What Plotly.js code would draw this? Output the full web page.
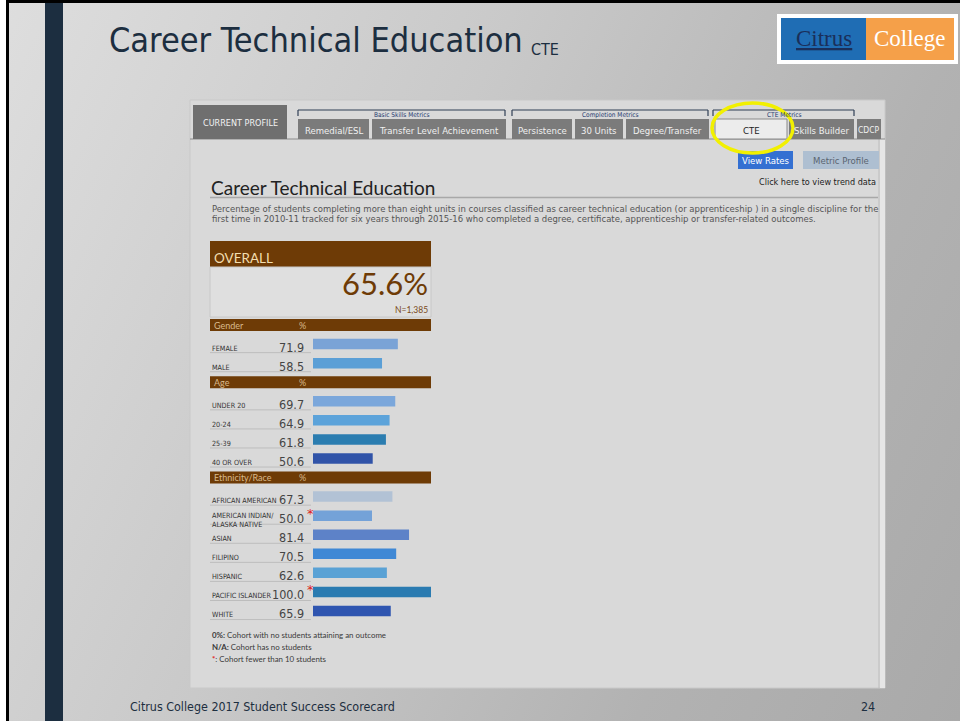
<!DOCTYPE html>
<html>
<head>
<meta charset="utf-8">
<script src="https://cdn.plot.ly/plotly-3.0.1.min.js"></script>
<style>
html,body{margin:0;padding:0;}
#wrap{width:960px;height:721px;background:linear-gradient(115deg,#dedede 0%,#c9c9c9 40%,#b2b2b2 75%,#a9a9a9 100%);}
</style>
</head>
<body>
<div id="wrap"><div id="chart" style="width:960px;height:721px;"></div></div>
<script>
// ---------------- data ----------------
var slideTitle = 'Career Technical Education';
var slideSub = 'CTE';
var footerText = 'Citrus College 2017 Student Success Scorecard';
var pageNumber = '24';
var groups = ['Gender', 'Age', 'Ethnicity/Race'];
var categories = ['FEMALE', 'MALE', 'UNDER 20', '20-24', '25-39', '40 OR OVER',
  'AFRICAN AMERICAN', 'AMERICAN INDIAN/ ALASKA NATIVE', 'ASIAN', 'FILIPINO',
  'HISPANIC', 'PACIFIC ISLANDER', 'WHITE'];
var categoryGroup = ['Gender', 'Gender', 'Age', 'Age', 'Age', 'Age',
  'Ethnicity/Race', 'Ethnicity/Race', 'Ethnicity/Race', 'Ethnicity/Race',
  'Ethnicity/Race', 'Ethnicity/Race', 'Ethnicity/Race'];
var rates = [71.9, 58.5, 69.7, 64.9, 61.8, 50.6, 67.3, 50.0, 81.4, 70.5, 62.6, 100.0, 65.9];
var smallCohort = [false, false, false, false, false, false, false, true, false, false, false, true, false];
var barColors = ['#7aa3d6', '#5b9fd6', '#7ba7db', '#5ca3da', '#2b7db0', '#3053a8',
  '#b2c2d5', '#74a2d8', '#5d82c8', '#3f88d5', '#5aa2d5', '#2a7bb1', '#2f55b0'];
var overallRate = 65.6;
var overallN = 1385;
var tabGroups = ['Basic Skills Metrics', 'Completion Metrics', 'CTE Metrics'];
var tabs = ['Remedial/ESL', 'Transfer Level Achievement', 'Persistence', '30 Units', 'Degree/Transfer', 'CTE', 'Skills Builder', 'CDCP'];
var description = ['Percentage of students completing more than eight units in courses classified as career technical education (or apprenticeship ) in a single discipline for the',
  'first time in 2010-11 tracked for six years through 2015-16 who completed a degree, certificate, apprenticeship or transfer-related outcomes.'];
var notes = [['0%:', ' Cohort with no students attaining an outcome'], ['N/A:', ' Cohort has no students'], ['*', ': Cohort fewer than 10 students']];

// ---------------- helpers (layout decoration in pixel space) ----------------
var W = 960, H = 721;
function px(x) { return x / W; }
function py(y) { return 1 - y / H; }
var shapes = [], ann = [];
function rect(x0, y0, x1, y1, fill, line, lw) {
  shapes.push({type: 'rect', xref: 'paper', yref: 'paper', x0: px(x0), x1: px(x1), y0: py(y1), y1: py(y0),
    fillcolor: fill, line: {color: line || fill, width: lw === undefined ? (line ? 1 : 0) : lw}, layer: 'below'});
}
function hline(x0, x1, y, color, w) {
  shapes.push({type: 'line', xref: 'paper', yref: 'paper', x0: px(x0), x1: px(x1), y0: py(y), y1: py(y),
    line: {color: color, width: w || 1}, layer: 'below'});
}
function vline(x, y0, y1, color, w) {
  shapes.push({type: 'line', xref: 'paper', yref: 'paper', x0: px(x), x1: px(x), y0: py(y0), y1: py(y1),
    line: {color: color, width: w || 1}, layer: 'below'});
}
var COND = 'DejaVu Sans Condensed, Liberation Sans, sans-serif';
function text(x, y, t, size, color, anchor, family, extra) {
  var a = {xref: 'paper', yref: 'paper', x: px(x), y: py(y), text: t, showarrow: false,
    xanchor: anchor || 'left', yanchor: 'middle', font: {size: size, color: color, family: family || COND}};
  if (extra) for (var k in extra) a[k] = extra[k];
  ann.push(a);
}

// ---------------- slide frame ----------------
hline(6, 960, 1.5, '#000000', 3);
vline(7.5, 0, 721, '#000000', 3);
rect(0, 0, 6, 721, '#ffffff');
rect(45, 3, 63, 721, '#1c2e40');

// title
text(107, 40, slideTitle, 34, '#1c2e40', 'left', COND);
text(529, 50, slideSub, 16, '#1c2e40', 'left', COND);
// logo
rect(777, 14, 958, 64, '#ffffff');
rect(781, 18, 866, 60, '#1f6db4');
rect(866, 18, 954, 60, '#f5a049');
text(824, 39, '<u>Citrus</u>', 23, '#1a2f5a', 'center', 'Liberation Serif, serif');
text(910, 39, 'College', 23, '#ffffff', 'center', 'Liberation Serif, serif');

// footer
text(128, 706, footerText, 12.4, '#1c2e40', 'left', COND);
text(877, 706, pageNumber, 12.4, '#1c2e40', 'right', COND);

// ---------------- screenshot panel ----------------
rect(190, 100, 885, 688, '#d9d9d9', '#c9c9c9', 1);
vline(879, 139, 688, '#bdbdbd', 1);
rect(880, 139, 885, 688, '#e6e6e6');
hline(190, 885, 139, '#8a8a8a', 1);
// current profile
rect(193, 105, 287, 139, '#6f6f6f');
text(240, 123, 'CURRENT PROFILE', 9, '#f2f2f2', 'center', COND);
// tab groups brackets
var gspan = [[298, 505], [512, 708], [713, 854]];
for (var g = 0; g < gspan.length; g++) {
  hline(gspan[g][0], gspan[g][1], 110, '#2f3f55', 1.2);
  vline(gspan[g][0], 110, 116, '#2f3f55', 1.2);
  vline(gspan[g][1], 110, 116, '#2f3f55', 1.2);
  text((gspan[g][0] + gspan[g][1]) / 2, 114.5, tabGroups[g], 6.5, '#1f3a70', 'center', COND);
}
var tabX = [[298, 369], [372, 506], [512, 572], [575, 623], [626, 709], [715, 787], [789, 854], [857, 881]];
for (var t = 0; t < tabs.length; t++) {
  var active = tabs[t] === 'CTE';
  rect(tabX[t][0], 119, tabX[t][1], 139, active ? '#ececec' : '#7b7b7b', active ? '#8a8a8a' : null, active ? 1 : 0);
  text((tabX[t][0] + tabX[t][1]) / 2, 130, tabs[t], tabs[t] === 'CDCP' ? 8.5 : 9.5, active ? '#222222' : '#f0f0f0', 'center', COND);
}
// highlight ellipse
shapes.push({type: 'circle', xref: 'paper', yref: 'paper', x0: px(712), x1: px(793), y0: py(153), y1: py(103),
  line: {color: '#f2f000', width: 3.5}, fillcolor: 'rgba(0,0,0,0)', layer: 'above'});

// buttons
rect(738, 151, 793, 169, '#3470d2');
text(765.5, 160, 'View Rates', 9.5, '#ffffff', 'center', COND);
rect(803, 151, 879, 169, '#aebfd1');
text(841, 160, 'Metric Profile', 9.5, '#5a6470', 'center', COND);

// heading
text(209, 187, 'Career Technical Education', 19, '#222222', 'left', 'Lato, Open Sans, sans-serif');
text(878, 182, 'Click here to view trend data', 9, '#222222', 'right', COND);
hline(210, 878, 197.5, '#a8a8a8', 1.5);
text(210, 209, description[0], 8.5, '#555555', 'left', 'DejaVu Sans, sans-serif');
text(210, 219, description[1], 8.5, '#555555', 'left', 'DejaVu Sans, sans-serif');

// overall box
rect(210, 241, 431, 267, '#6e3b06');
text(212, 258, 'OVERALL', 13.5, '#f3deb0', 'left', 'Lato, sans-serif');
rect(210, 267, 431, 317, '#dfdfdf', '#c8c8c8', 1);
text(430, 283, overallRate.toFixed(1) + '%', 31, '#6e3b06', 'right', 'Lato, sans-serif');
text(430, 310, 'N=' + overallN.toLocaleString('en-US'), 8.5, '#7a4a1a', 'right', 'Lato, sans-serif');

// notes
for (var n = 0; n < notes.length; n++) {
  var pre = n === 2 ? '<span style="color:#e02020"><b>*</b></span>' : '<b>' + notes[n][0] + '</b>';
  text(210, 635 + n * 12, pre + notes[n][1], 7.9, '#3a3a3a', 'left', 'Lato, sans-serif');
}

// ---------------- bar chart (data) ----------------
var rows = [];
for (var gi = 0; gi < groups.length; gi++) {
  rows.push(groups[gi]);
  for (var c = 0; c < categories.length; c++) if (categoryGroup[c] === groups[gi]) rows.push(categories[c]);
}
var nRows = rows.length;

// group header bands
for (var gi2 = 0; gi2 < groups.length; gi2++) {
  var idx = rows.indexOf(groups[gi2]);
  shapes.push({type: 'rect', xref: 'paper', yref: 'y', x0: px(210), x1: px(431), y0: idx - 0.31, y1: idx + 0.31,
    fillcolor: '#6e3b06', line: {width: 0}, layer: 'below'});
  ann.push({xref: 'paper', yref: 'y', x: px(212), y: groups[gi2], text: groups[gi2], showarrow: false, xanchor: 'left', yanchor: 'middle',
    font: {size: 9, color: '#d8b98c', family: 'Lato, sans-serif'}});
  ann.push({xref: 'paper', yref: 'y', x: px(297), y: groups[gi2], text: '%', showarrow: false, xanchor: 'left', yanchor: 'middle',
    font: {size: 9, color: '#d8b98c', family: 'Lato, sans-serif'}});
}
// category labels, values, underlines
for (var k = 0; k < categories.length; k++) {
  var ri = rows.indexOf(categories[k]);
  shapes.push({type: 'line', xref: 'paper', yref: 'y', x0: px(210), x1: px(311), y0: ri + 0.45, y1: ri + 0.45,
    line: {color: '#bdbdbd', width: 1}, layer: 'below'});
  ann.push({xref: 'paper', yref: 'y', x: px(210), y: categories[k], text: categories[k].replace('/ ', '/<br>'), showarrow: false,
    xanchor: 'left', yanchor: 'middle', yshift: -4, align: 'left',
    font: {size: 7.2, color: '#333333', family: COND}});
  ann.push({xref: 'paper', yref: 'y', x: px(306), y: categories[k], text: rates[k].toFixed(1), showarrow: false,
    xanchor: 'right', yanchor: 'middle', yshift: -3,
    font: {size: 12.5, color: '#444444', family: COND}});
  if (smallCohort[k]) {
    ann.push({xref: 'paper', yref: 'y', x: px(305), y: categories[k], text: '*', showarrow: false,
      xanchor: 'left', yanchor: 'middle', yshift: 2,
      font: {size: 13, color: '#dd2222', family: 'DejaVu Sans, sans-serif'}});
  }
}

var trace = {
  type: 'bar', orientation: 'h',
  x: rates, y: categories,
  marker: {color: barColors, line: {width: 0}},
  width: 0.55,
  hoverinfo: 'x+y'
};

var layout = {
  width: W, height: H,
  margin: {l: 0, r: 0, t: 0, b: 0, pad: 0},
  paper_bgcolor: 'rgba(0,0,0,0)', plot_bgcolor: 'rgba(0,0,0,0)',
  showlegend: false,
  xaxis: {domain: [px(313), px(431)], range: [0, 100], visible: false, fixedrange: true},
  yaxis: {domain: [py(620.5), py(315.5)], type: 'category', categoryorder: 'array', categoryarray: rows,
    range: [nRows - 0.5, -0.5], visible: false, fixedrange: true},
  shapes: shapes,
  annotations: ann
};
Plotly.newPlot('chart', [trace], layout, {displayModeBar: false, staticPlot: true});
</script>
</body>
</html>
